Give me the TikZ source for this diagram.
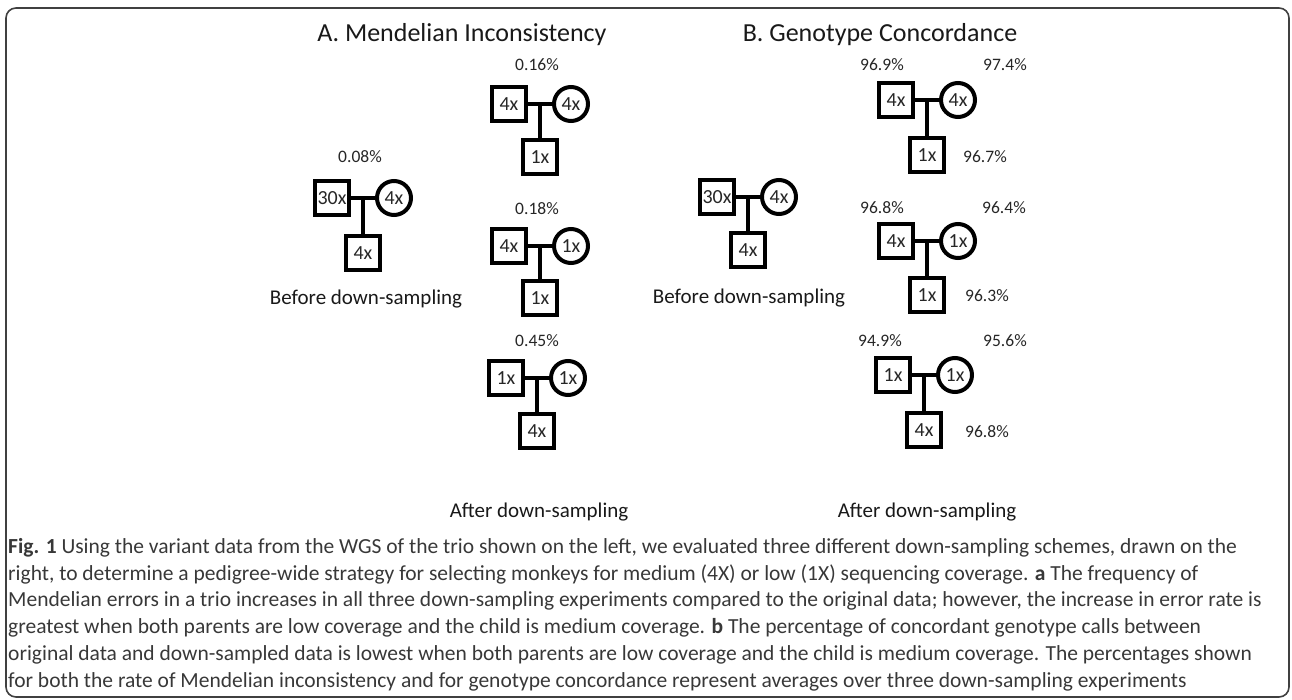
\documentclass[tikz,border=0pt]{standalone}
\usepackage{fontspec}
\setmainfont{Carlito}
\newcommand{\trio}[7]{%
  % #1 prefix, #2 x of vertical, #3 y of parents, #4 y of child, #5 father, #6 mother, #7 child
  \node[sq] (#1f) at (#2-31,#3) {#5};
  \node[ci] (#1m) at (#2+31,#3) {#6};
  \node[sq] (#1c) at (#2,#4) {#7};
  \coordinate (#1j) at (#2,#3);
  \draw[ln] (#1f) -- (#1m);
  \draw[ln] (#1j) -- (#1c);
}
\begin{document}
\begin{tikzpicture}[x=1pt,y=-1pt,
  sq/.style={draw, line width=4pt, minimum size=34pt, inner sep=0pt, font=\fontsize{20}{20}\selectfont, text=black!85},
  ci/.style={draw, circle, line width=4pt, minimum size=34pt, inner sep=0pt, font=\fontsize{20}{20}\selectfont, text=black!85},
  ln/.style={line width=4pt},
  pct/.style={font=\fontsize{17.5}{17.5}\selectfont, inner sep=0pt, text=black!85},
  ttl/.style={font=\fontsize{26}{26}\selectfont, inner sep=0pt, anchor=base, text=black!90},
  lbl/.style={font=\fontsize{21}{21}\selectfont, inner sep=0pt, text=black!90},
  captxt/.style={font=\fontsize{21.5}{21.5}\selectfont, inner sep=0pt, anchor=base west, text=black!78}
]
\useasboundingbox (0,0) rectangle (1292,700);
\draw[rounded corners=10pt, line width=1.6pt, draw=black!75] (6,8) rectangle (1289,697);

% titles
\node[ttl] (tA) at (462,42) {A. Mendelian Inconsistency};
\node[ttl] (tB) at (880,42) {B. Genotype Concordance};

% A: before
\trio{ab}{363}{198}{253}{30x}{4x}{4x}
\node[pct] (pab) at (360,157) {0.08\%};
\node[lbl] (bA) at (366,299) {Before down-sampling};

% A: after
\trio{aa}{540}{104}{157}{4x}{4x}{1x}
\node[pct] (paa) at (537,65) {0.16\%};
\trio{ac}{540}{246}{298}{4x}{1x}{1x}
\node[pct] (pac) at (537,209) {0.18\%};
\trio{ad}{537}{378}{431}{1x}{1x}{4x}
\node[pct] (pad) at (537,341) {0.45\%};
\node[lbl] (aA) at (539,512) {After down-sampling};

% B: before
\trio{bb}{748}{197}{250}{30x}{4x}{4x}
\node[lbl] (bB) at (749,298) {Before down-sampling};

% B: after
\trio{ba}{927}{100}{155}{4x}{4x}{1x}
\node[pct] (pba1) at (882,65) {96.9\%};
\node[pct] (pba2) at (1005,65) {97.4\%};
\node[pct] (pba3) at (985,157) {96.7\%};
\trio{bc}{927}{241}{295}{4x}{1x}{1x}
\node[pct] (pbc1) at (882,208) {96.8\%};
\node[pct] (pbc2) at (1004,208) {96.4\%};
\node[pct] (pbc3) at (987,296) {96.3\%};
\trio{bd}{924}{375}{430}{1x}{1x}{4x}
\node[pct] (pbd1) at (880,341) {94.9\%};
\node[pct] (pbd2) at (1005,341) {95.6\%};
\node[pct] (pbd3) at (987,432) {96.8\%};
\node[lbl] (aB) at (927,512) {After down-sampling};

% caption
\node[captxt] (c1) at (8,553) {\textbf{Fig. 1} Using the variant data from the WGS of the trio shown on the left, we evaluated three different down-sampling schemes, drawn on the};
\node[captxt] (c2) at (8,580) {right, to determine a pedigree-wide strategy for selecting monkeys for medium (4X) or low (1X) sequencing coverage. \textbf{a} The frequency of};
\node[captxt] (c3) at (8,606) {Mendelian errors in a trio increases in all three down-sampling experiments compared to the original data; however, the increase in error rate is};
\node[captxt] (c4) at (8,633) {greatest when both parents are low coverage and the child is medium coverage. \textbf{b} The percentage of concordant genotype calls between};
\node[captxt] (c5) at (8,660) {original data and down-sampled data is lowest when both parents are low coverage and the child is medium coverage. The percentages shown};
\node[captxt] (c6) at (8,687) {for both the rate of Mendelian inconsistency and for genotype concordance represent averages over three down-sampling experiments};
\end{tikzpicture}
\end{document}
